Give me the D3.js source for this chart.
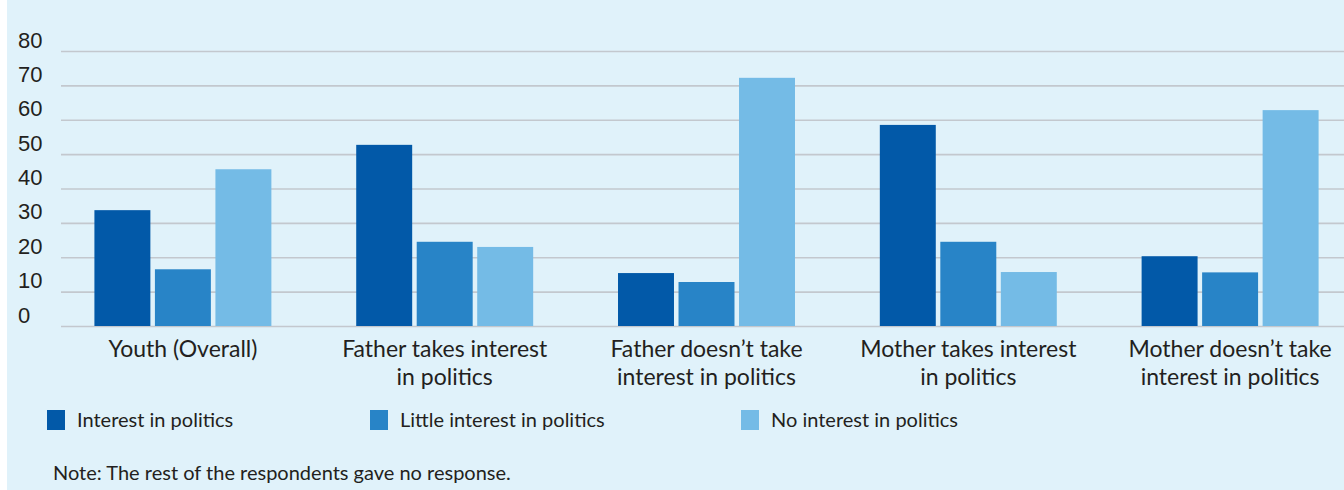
<!DOCTYPE html>
<html>
<head>
<meta charset="utf-8">
<script src="https://cdn.jsdelivr.net/npm/d3@7"></script>
<style>
  html, body { margin: 0; padding: 0; background: #fff; }
  svg { display: block; font-family: Lato, "Noto Sans", sans-serif; }
</style>
</head>
<body>
<svg id="chart" width="1344" height="490"></svg>
<script>
// chart data
const categories = [
  ["Youth (Overall)"],
  ["Father takes interest", "in politics"],
  ["Father doesn\u2019t take", "interest in politics"],
  ["Mother takes interest", "in politics"],
  ["Mother doesn\u2019t take", "interest in politics"]
];
const seriesNames = ["Interest in politics", "Little interest in politics", "No interest in politics"];
const interest = [33.7, 52.7, 15.4, 58.5, 20.3];
const littleInterest = [16.5, 24.5, 12.8, 24.5, 15.6];
const noInterest = [45.6, 23.0, 72.2, 15.7, 62.8];
const yTicks = [0, 10, 20, 30, 40, 50, 60, 70, 80];
const note = "Note: The rest of the respondents gave no response.";

const colors = ["#0259a8", "#2884c7", "#74bbe6"];
const series = [interest, littleInterest, noInterest];

const svg = d3.select("#chart");
// panel background
svg.append("rect").attr("x", 7).attr("y", 0).attr("width", 1337).attr("height", 490).attr("fill", "#e0f2fa");

const gridLeft = 61, gridRight = 1344;
const y = d3.scaleLinear().domain([0, 80]).range([326, 51]);
const x0 = d3.scaleBand().domain(d3.range(categories.length)).range([52, 1361])
  .paddingInner(0.324).paddingOuter(0.162);
const x1 = d3.scaleBand().domain(d3.range(series.length)).range([0, x0.bandwidth()]).paddingInner(0.075);

// y axis + gridlines
const yAxis = svg.append("g")
  .attr("transform", `translate(${gridLeft},0)`)
  .call(d3.axisLeft(y).tickValues(yTicks).tickSize(-(gridRight - gridLeft)).tickPadding(0));
yAxis.select(".domain").remove();
yAxis.selectAll(".tick line").attr("stroke", "#c3c8ce").attr("stroke-width", 1.6);
yAxis.selectAll(".tick text")
  .attr("x", 18 - gridLeft).attr("y", -4).attr("dy", 0)
  .attr("text-anchor", "start")
  .attr("fill", "#231f20").style("font-size", "22px");

// bars
const groups = svg.selectAll("g.grp").data(categories).join("g")
  .attr("class", "grp")
  .attr("transform", (d, i) => `translate(${x0(i)},0)`);
groups.selectAll("rect").data((d, i) => series.map((s, k) => ({ k, v: s[i] }))).join("rect")
  .attr("x", d => x1(d.k))
  .attr("y", d => y(d.v))
  .attr("width", x1.bandwidth())
  .attr("height", d => y(0) - y(d.v))
  .attr("fill", d => colors[d.k]);

// category labels
groups.append("text")
  .attr("x", x0.bandwidth() / 2)
  .attr("text-anchor", "middle")
  .attr("fill", "#231f20")
  .style("font-size", "23px")
  .selectAll("tspan").data(d => d).join("tspan")
  .attr("x", x0.bandwidth() / 2)
  .attr("y", (d, i) => 357 + i * 28)
  .text(d => d);

// legend
const legendX = [47, 370, 741];
const legend = svg.selectAll("g.leg").data(seriesNames).join("g")
  .attr("class", "leg")
  .attr("transform", (d, i) => `translate(${legendX[i]},410)`);
legend.append("rect").attr("width", 18).attr("height", 20).attr("fill", (d, i) => colors[i]);
legend.append("text").attr("x", 30).attr("y", 17)
  .attr("fill", "#231f20").style("font-size", "20px").text(d => d);

// note
svg.append("text").attr("x", 53).attr("y", 480)
  .attr("fill", "#231f20").style("font-size", "20px").text(note);
</script>
</body>
</html>
